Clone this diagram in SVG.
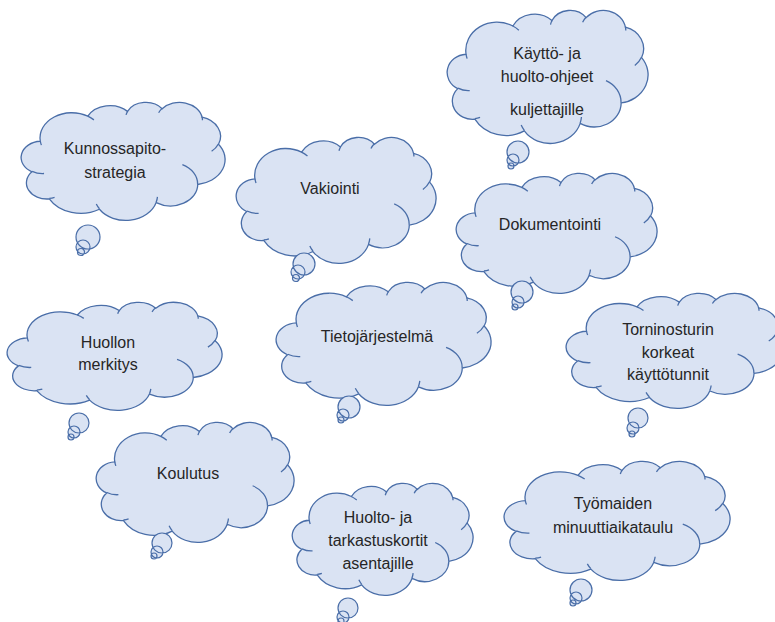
<svg xmlns="http://www.w3.org/2000/svg" xmlns:xlink="http://www.w3.org/1999/xlink" width="775" height="622" viewBox="0 0 775 622">
<style>
.body{fill:#DAE3F3;stroke:#4A6EA8;stroke-width:1.3}
.inner{fill:none;stroke:#4A6EA8;stroke-width:1.3}
.tail{fill:#DAE3F3;stroke:#4A6EA8;stroke-width:1.2}
.t{font-family:"Liberation Sans",Arial,sans-serif;font-size:16px;fill:#262626;text-anchor:middle}
</style>
<defs>
<path id="cloud" vector-effect="non-scaling-stroke" d="M39,143.7 A67.53,91.9 0 0 1 140.06,52.01 A53.33,72.67 0 0 1 224.57,34.3 A43.65,59.45 0 0 1 298.34,24.79 A48.57,65.95 0 0 1 383.18,55.76 A53.33,72.73 0 0 1 418.19,154.6 A67.75,92.2 0 0 1 374.04,302.01 A57.85,78.67 0 0 1 285.55,368.12 A67.52,92.15 0 0 1 164.81,392.65 A77.2,105.43 0 0 1 58.05,354.7 A43.6,59.18 0 0 1 21.13,255.48 A43.45,59.45 0 0 1 39,143.7 Z"/>
<path id="cloudIn" vector-effect="non-scaling-stroke" d="M46.93,261.77 A43.45,59.45 0 0 1 21.6,253.8 M69.28,348.99 A43.6,59.18 0 0 1 58.19,352.81 M164.78,390.9 A67.52,92.15 0 0 1 158.09,373.46 M288.27,347.51 A67.52,92.15 0 0 1 285.6,366.61 M341.29,229.54 A57.85,78.67 0 0 1 373.81,300.9 M417.98,153.54 A53.33,72.73 0 0 1 403.5,180.29 M383.24,54.26 A48.57,65.95 0 0 1 384.01,66.89 M290.78,39.52 A48.57,65.95 0 0 1 298.2,23.4 M221.41,47.2 A43.65,59.45 0 0 1 225,33.3 M140,51.92 A67.53,91.9 0 0 1 153,65.41 M41.27,157.89 A67.53,91.9 0 0 1 39.01,143.71"/>
</defs>

<g id="connectors"></g>

<g id="n-kunnossapito">
<g transform="translate(22,102) scale(0.46991,0.27315)"><use href="#cloud" class="body"/><use href="#cloudIn" class="inner"/></g>
<path class="tail" d="M76,237a12,12 0 1 0 24,0a12,12 0 1 0 -24,0Z M76,247a7,7 0 1 0 14,0a7,7 0 1 0 -14,0Z M77.5,252a3.5,3.5 0 1 0 7,0a3.5,3.5 0 1 0 -7,0Z"/>
<text class="t" x="115" y="154">Kunnossapito-</text>
<text class="t" x="115" y="178">strategia</text>
</g>

<g id="n-vakiointi">
<g transform="translate(237,137) scale(0.46065,0.29167)"><use href="#cloud" class="body"/><use href="#cloudIn" class="inner"/></g>
<path class="tail" d="M293,264a11,11 0 1 0 22,0a11,11 0 1 0 -22,0Z M291,272a7,7 0 1 0 14,0a7,7 0 1 0 -14,0Z M292.5,278a3.5,3.5 0 1 0 7,0a3.5,3.5 0 1 0 -7,0Z"/>
<text class="t" x="330" y="194">Vakiointi</text>
</g>

<g id="n-kaytto">
<g transform="translate(448,10) scale(0.46296,0.30787)"><use href="#cloud" class="body"/><use href="#cloudIn" class="inner"/></g>
<path class="tail" d="M507,152a11,11 0 1 0 22,0a11,11 0 1 0 -22,0Z M507,160a6,6 0 1 0 12,0a6,6 0 1 0 -12,0Z M508,166a3,3 0 1 0 6,0a3,3 0 1 0 -6,0Z"/>
<text class="t" x="547" y="59">Käyttö- ja</text>
<text class="t" x="547" y="82">huolto-ohjeet</text>
<text class="t" x="547" y="115">kuljettajille</text>
</g>

<g id="n-dokumentointi">
<g transform="translate(457,173) scale(0.46296,0.27778)"><use href="#cloud" class="body"/><use href="#cloudIn" class="inner"/></g>
<path class="tail" d="M511,292a11,11 0 1 0 22,0a11,11 0 1 0 -22,0Z M512,302a6,6 0 1 0 12,0a6,6 0 1 0 -12,0Z M512,307a3,3 0 1 0 6,0a3,3 0 1 0 -6,0Z"/>
<text class="t" x="550" y="230">Dokumentointi</text>
</g>

<g id="n-huollon">
<g transform="translate(8,302) scale(0.49537,0.25)"><use href="#cloud" class="body"/><use href="#cloudIn" class="inner"/></g>
<path class="tail" d="M69,423a10,10 0 1 0 20,0a10,10 0 1 0 -20,0Z M68,432a6,6 0 1 0 12,0a6,6 0 1 0 -12,0Z M68,437a3,3 0 1 0 6,0a3,3 0 1 0 -6,0Z"/>
<text class="t" x="108" y="348">Huollon</text>
<text class="t" x="108" y="370">merkitys</text>
</g>

<g id="n-tietojarjestelma">
<g transform="translate(277,282) scale(0.49537,0.28472)"><use href="#cloud" class="body"/><use href="#cloudIn" class="inner"/></g>
<path class="tail" d="M338,407a11,11 0 1 0 22,0a11,11 0 1 0 -22,0Z M337,415a6,6 0 1 0 12,0a6,6 0 1 0 -12,0Z M338,420a3,3 0 1 0 6,0a3,3 0 1 0 -6,0Z"/>
<text class="t" x="377" y="342">Tietojärjestelmä</text>
</g>

<g id="n-torninosturin">
<g transform="translate(567,293) scale(0.5,0.2662)"><use href="#cloud" class="body"/><use href="#cloudIn" class="inner"/></g>
<path class="tail" d="M628,418a10,10 0 1 0 20,0a10,10 0 1 0 -20,0Z M627,428a6,6 0 1 0 12,0a6,6 0 1 0 -12,0Z M629,434a3,3 0 1 0 6,0a3,3 0 1 0 -6,0Z"/>
<text class="t" x="668" y="335">Torninosturin</text>
<text class="t" x="668" y="358">korkeat</text>
<text class="t" x="668" y="380">käyttötunnit</text>
</g>

<g id="n-koulutus">
<g transform="translate(97,422) scale(0.45602,0.27778)"><use href="#cloud" class="body"/><use href="#cloudIn" class="inner"/></g>
<path class="tail" d="M152,543a10,10 0 1 0 20,0a10,10 0 1 0 -20,0Z M151,552a6,6 0 1 0 12,0a6,6 0 1 0 -12,0Z M151,556a3,3 0 1 0 6,0a3,3 0 1 0 -6,0Z"/>
<text class="t" x="188" y="479">Koulutus</text>
</g>

<g id="n-huoltokortit">
<g transform="translate(293,483) scale(0.41667,0.25926)"><use href="#cloud" class="body"/><use href="#cloudIn" class="inner"/></g>
<path class="tail" d="M338,608a10,10 0 1 0 20,0a10,10 0 1 0 -20,0Z M337,617a6,6 0 1 0 12,0a6,6 0 1 0 -12,0Z M338,621a3,3 0 1 0 6,0a3,3 0 1 0 -6,0Z"/>
<text class="t" x="378" y="523">Huolto- ja</text>
<text class="t" x="378" y="546">tarkastuskortit</text>
<text class="t" x="378" y="569">asentajille</text>
</g>

<g id="n-tyomaiden">
<g transform="translate(505,461) scale(0.52083,0.27546)"><use href="#cloud" class="body"/><use href="#cloudIn" class="inner"/></g>
<path class="tail" d="M570,590a11,11 0 1 0 22,0a11,11 0 1 0 -22,0Z M570,598a6,6 0 1 0 12,0a6,6 0 1 0 -12,0Z M570,603a3,3 0 1 0 6,0a3,3 0 1 0 -6,0Z"/>
<text class="t" x="613" y="509">Työmaiden</text>
<text class="t" x="613" y="533">minuuttiaikataulu</text>
</g>
</svg>
